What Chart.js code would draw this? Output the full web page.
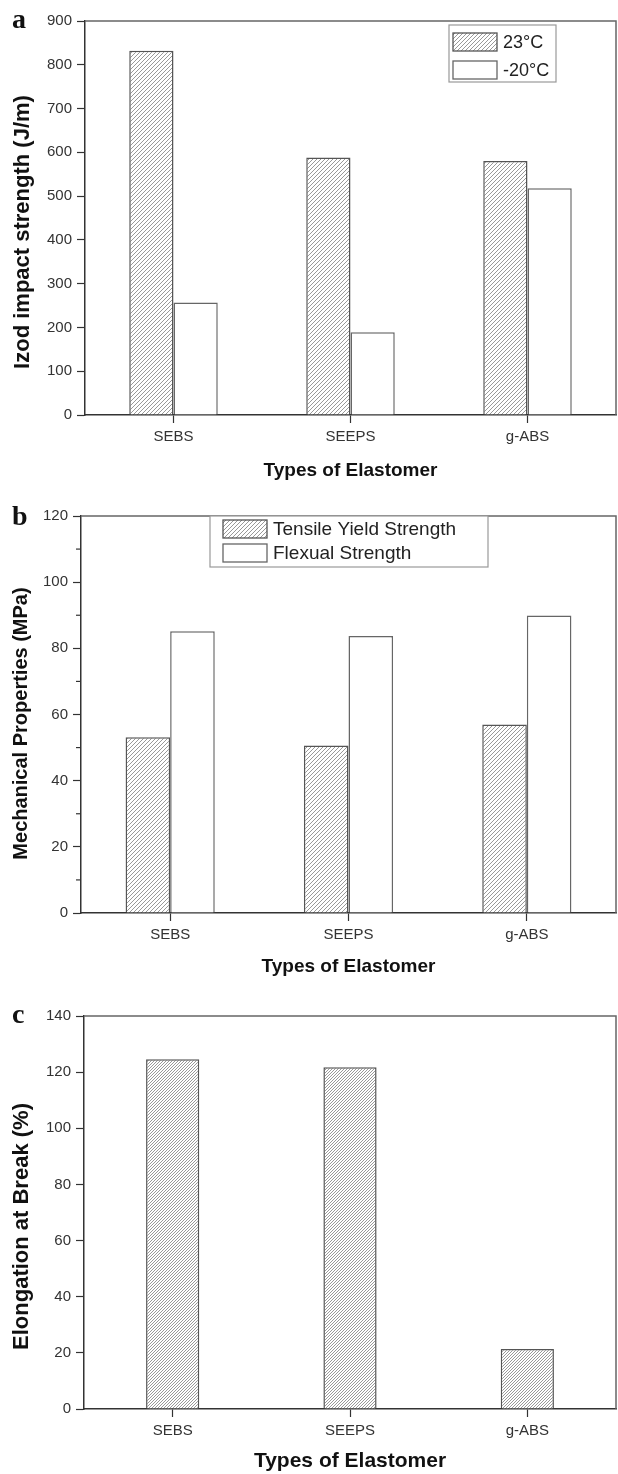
<!DOCTYPE html>
<html>
<head>
<meta charset="utf-8">
<script src="https://cdn.jsdelivr.net/npm/chart.js@4.4.1/dist/chart.umd.min.js"></script>
<style>
  body { margin: 0; background: #fff; }
  .panel { position: absolute; left: 0; width: 618px; }
  .tag { position: absolute; left: 12px; font: bold 28px "Liberation Serif", serif; line-height: 1; color: #111; }
</style>
</head>
<body>
<div class="panel" style="top:0;height:482px"><canvas id="chartA" width="618" height="482"></canvas></div>
<div class="panel" style="top:482px;height:496px"><canvas id="chartB" width="618" height="496"></canvas></div>
<div class="panel" style="top:978px;height:496px"><canvas id="chartC" width="618" height="496"></canvas></div>
<div class="tag" style="top:5px">a</div>
<div class="tag" style="top:502px">b</div>
<div class="tag" style="top:1000px">c</div>

<script>
// data
const elastomers = ['SEBS', 'SEEPS', 'g-ABS'];
const izodRoom = [832, 588, 580];     // 23 C
const izodCold = [257, 189, 518];     // -20 C
const tensileYield = [53.1, 50.6, 57.0];
const flexural = [85.2, 83.7, 89.9];
const elongation = [124.6, 121.7, 21.4];

const FONT = 'Liberation Sans, Arial, sans-serif';
Chart.defaults.font.family = FONT;
Chart.defaults.color = '#333';

// diagonal "///" fill like the original figure
function hatch(ctx, gap) {
  const c = document.createElement('canvas');
  c.width = gap; c.height = gap;
  const g = c.getContext('2d');
  g.fillStyle = '#fff';
  g.fillRect(0, 0, gap, gap);
  g.strokeStyle = '#999';
  g.lineWidth = 1;
  g.beginPath();
  g.moveTo(0, gap); g.lineTo(gap, 0);
  g.moveTo(-1, 1); g.lineTo(1, -1);
  g.moveTo(gap - 1, gap + 1); g.lineTo(gap + 1, gap - 1);
  g.stroke();
  return ctx.createPattern(c, 'repeat');
}

// top + right border of the plot box
const frame = {
  id: 'frame',
  afterDatasetsDraw(chart) {
    const {ctx, chartArea: {left, right, top, bottom}} = chart;
    ctx.save();
    ctx.strokeStyle = '#666';
    ctx.lineWidth = 1.5;
    ctx.beginPath();
    ctx.moveTo(left, top);
    ctx.lineTo(right, top);
    ctx.lineTo(right, bottom);
    ctx.stroke();
    ctx.restore();
  }
};

// short unlabeled ticks between the labelled ones
const minorTicks = {
  id: 'minorTicks',
  afterDraw(chart, args, opts) {
    if (!opts.values) return;
    const {ctx} = chart;
    const y = chart.scales.y;
    ctx.save();
    ctx.strokeStyle = '#333';
    ctx.lineWidth = 1.2;
    opts.values.forEach(v => {
      const py = y.getPixelForValue(v);
      ctx.beginPath();
      ctx.moveTo(y.right - 5, py);
      ctx.lineTo(y.right, py);
      ctx.stroke();
    });
    ctx.restore();
  }
};

// rotated y title, sits a bit below the middle of the axis as in Origin
const yTitle = {
  id: 'yTitle',
  afterDraw(chart, args, o) {
    if (!o.text) return;
    const {ctx, chartArea: {top, bottom}} = chart;
    ctx.save();
    ctx.translate(o.x, (top + bottom) / 2 + o.shift);
    ctx.rotate(-Math.PI / 2);
    ctx.font = 'bold ' + o.size + 'px ' + FONT;
    ctx.fillStyle = '#111';
    ctx.textAlign = 'center';
    ctx.textBaseline = 'middle';
    ctx.fillText(o.text, 0, 0);
    ctx.restore();
  }
};

// boxed legend inside the plot, Origin style
const boxLegend = {
  id: 'boxLegend',
  afterDraw(chart, args, o) {
    if (!o.rows) return;
    const {ctx} = chart;
    ctx.save();
    ctx.fillStyle = '#fff';
    ctx.fillRect(o.x, o.y, o.w, o.h);
    ctx.strokeStyle = '#999';
    ctx.lineWidth = 1.2;
    ctx.strokeRect(o.x, o.y, o.w, o.h);
    chart.data.datasets.forEach((ds, i) => {
      const cy = o.rows[i];
      ctx.fillStyle = ds.backgroundColor;
      ctx.fillRect(o.swatchX, cy - o.swatchH / 2, o.swatchW, o.swatchH);
      ctx.strokeStyle = ds.borderColor;
      ctx.lineWidth = 1.3;
      ctx.strokeRect(o.swatchX, cy - o.swatchH / 2, o.swatchW, o.swatchH);
      ctx.fillStyle = '#222';
      ctx.font = o.font;
      ctx.textBaseline = 'middle';
      ctx.textAlign = 'left';
      ctx.fillText(ds.label, o.textX, cy + 1);
    });
    ctx.restore();
  }
};

function yAxis(max, step, width) {
  return {
    min: 0, max: max,
    ticks: { stepSize: step, color: '#333', font: { size: 15 }, padding: 5 },
    grid: { drawOnChartArea: false, tickLength: 8, tickColor: '#333', tickWidth: 1.2 },
    border: { color: '#333', width: 1.5 },
    afterFit(s) { s.width = width; }
  };
}

function xAxis(titleSize, height) {
  return {
    ticks: { color: '#333', font: { size: 15 }, padding: 5 },
    grid: { offset: false, drawOnChartArea: false, tickLength: 8, tickColor: '#333', tickWidth: 1.2 },
    border: { color: '#333', width: 1.5 },
    title: { display: true, text: 'Types of Elastomer', color: '#111', font: { size: titleSize, weight: 'bold' }, padding: { top: 4, bottom: 0 } },
    afterFit(s) { s.height = height; }
  };
}

function baseOptions(top, xTitle, xHeight, yCfg, yTitleCfg) {
  return {
    responsive: false,
    animation: false,
    devicePixelRatio: 1,
    layout: { padding: { top: top, right: 2, left: 0, bottom: 0 } },
    scales: { x: xAxis(xTitle, xHeight), y: yCfg },
    plugins: { legend: { display: false }, tooltip: { enabled: false }, yTitle: yTitleCfg }
  };
}

// a: Izod impact
const ctxA = document.getElementById('chartA').getContext('2d');
const optsA = baseOptions(21, 19, 67, yAxis(900, 100, 85),
  { text: 'Izod impact strength (J/m)', size: 22, x: 23, shift: 14 });
optsA.plugins.boxLegend = { x: 449, y: 25, w: 107, h: 57, swatchX: 453, swatchW: 44, swatchH: 18, textX: 503, rows: [42, 70], font: '18px ' + FONT };
new Chart(ctxA, {
  type: 'bar',
  data: {
    labels: elastomers,
    datasets: [
      { label: '23°C', data: izodRoom, backgroundColor: hatch(ctxA, 4), borderColor: '#555', borderWidth: 1.5, categoryPercentage: 0.5, barPercentage: 1 },
      { label: '-20°C', data: izodCold, backgroundColor: '#fff', borderColor: '#666', borderWidth: 1.5, categoryPercentage: 0.5, barPercentage: 1 }
    ]
  },
  options: optsA,
  plugins: [frame, yTitle, boxLegend]
});

// b: tensile / flexural
const ctxB = document.getElementById('chartB').getContext('2d');
const optsB = baseOptions(34, 19, 65, yAxis(120, 20, 81),
  { text: 'Mechanical Properties (MPa)', size: 20, x: 21, shift: 9 });
optsB.plugins.boxLegend = { x: 210, y: 34, w: 278, h: 51, swatchX: 223, swatchW: 44, swatchH: 18, textX: 273, rows: [47, 71], font: '19px ' + FONT };
optsB.plugins.minorTicks = { values: [10, 30, 50, 70, 90, 110] };
new Chart(ctxB, {
  type: 'bar',
  data: {
    labels: elastomers,
    datasets: [
      { label: 'Tensile Yield Strength', data: tensileYield, backgroundColor: hatch(ctxB, 4), borderColor: '#555', borderWidth: 1.5, categoryPercentage: 0.5, barPercentage: 1 },
      { label: 'Flexual Strength', data: flexural, backgroundColor: '#fff', borderColor: '#666', borderWidth: 1.5, categoryPercentage: 0.5, barPercentage: 1 }
    ]
  },
  options: optsB,
  plugins: [frame, minorTicks, yTitle, boxLegend]
});

// c: elongation
const ctxC = document.getElementById('chartC').getContext('2d');
const optsC = baseOptions(38, 21, 65, yAxis(140, 20, 84),
  { text: 'Elongation at Break (%)', size: 22, x: 22, shift: 14 });
new Chart(ctxC, {
  type: 'bar',
  data: {
    labels: elastomers,
    datasets: [
      { label: 'Elongation', data: elongation, backgroundColor: hatch(ctxC, 3), borderColor: '#555', borderWidth: 1.5, categoryPercentage: 0.3, barPercentage: 1 }
    ]
  },
  options: optsC,
  plugins: [frame, yTitle]
});
</script>
</body>
</html>
